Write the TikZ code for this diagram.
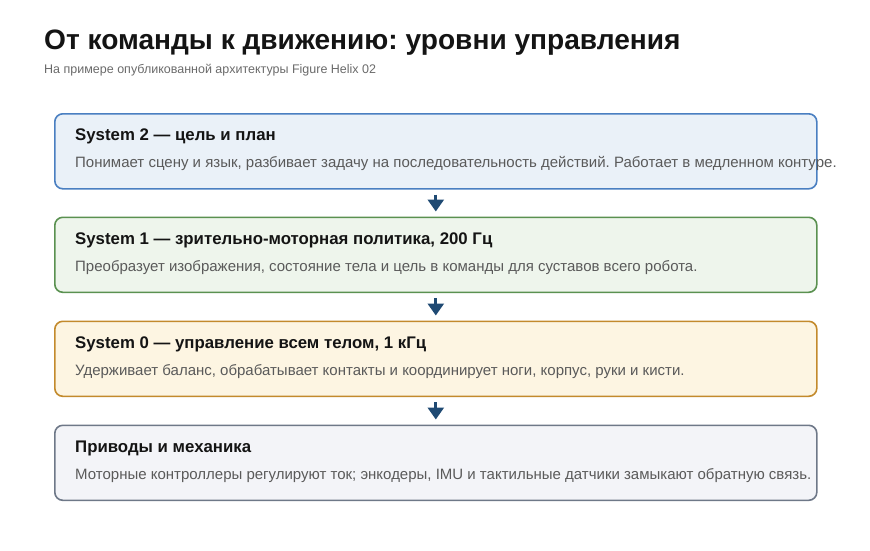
\documentclass[tikz,border=0pt]{standalone}
\usepackage{fontspec}
\setmainfont{Liberation Sans}
\usetikzlibrary{arrows.meta}
\definecolor{titlec}{HTML}{141414}
\definecolor{subc}{HTML}{6A6A6A}
\definecolor{bodyc}{HTML}{5A5A5A}
\definecolor{arrowc}{HTML}{1F4A73}
\definecolor{bAfill}{HTML}{EAF1F8}\definecolor{bAdraw}{HTML}{4A7FC1}
\definecolor{bBfill}{HTML}{EEF5EC}\definecolor{bBdraw}{HTML}{5A9150}
\definecolor{bCfill}{HTML}{FDF5E2}\definecolor{bCdraw}{HTML}{C38A2C}
\definecolor{bDfill}{HTML}{F3F4F8}\definecolor{bDdraw}{HTML}{6E7888}
\tikzset{
  panel/.style={draw, line width=1.6pt, rounded corners=8pt, minimum width=762pt, minimum height=75pt, anchor=north west, inner sep=0pt},
  headtxt/.style={anchor=base west, inner sep=0pt, font=\bfseries\fontsize{16.8}{19}\selectfont, text=titlec},
  bodytxt/.style={anchor=base west, inner sep=0pt, font=\fontsize{15}{17}\selectfont, text=bodyc},
  flow/.style={draw=arrowc, line width=2.8pt, -{Triangle[width=16pt,length=12pt]}, shorten <=5pt, shorten >=5pt},
}
\begin{document}
\frenchspacing
\begin{tikzpicture}[x=1pt,y=-1pt]
\useasboundingbox (0,0) rectangle (870,551);
\node[anchor=base west, inner sep=0pt, font=\bfseries\fontsize{28.1}{34}\selectfont, text=titlec] (title) at (44,49) {От команды к движению: уровни управления};
\node[anchor=base west, inner sep=0pt, font=\fontsize{12.5}{14}\selectfont, text=subc] (sub) at (44,74) {На примере опубликованной архитектуры Figure Helix 02};

\node[panel, fill=bAfill, draw=bAdraw] (b2) at (54,113) {};
\node[headtxt] (b2h) at (75,140) {System 2 — цель и план};
\node[bodytxt] (b2t) at (75,167) {Понимает сцену и язык, разбивает задачу на последовательность действий. Работает в медленном контуре.};

\node[panel, fill=bBfill, draw=bBdraw] (b1) at (54,216.5) {};
\node[headtxt] (b1h) at (75,244) {System 1 — зрительно-моторная политика, 200 Гц};
\node[bodytxt] (b1t) at (75,271) {Преобразует изображения, состояние тела и цель в команды для суставов всего робота.};

\node[panel, fill=bCfill, draw=bCdraw] (b0) at (54,320.5) {};
\node[headtxt] (b0h) at (75,348) {System 0 — управление всем телом, 1 кГц};
\node[bodytxt] (b0t) at (75,375) {Удерживает баланс, обрабатывает контакты и координирует ноги, корпус, руки и кисти.};

\node[panel, fill=bDfill, draw=bDdraw] (bm) at (54,424.5) {};
\node[headtxt] (bmh) at (75,452) {Приводы и механика};
\node[bodytxt] (bmt) at (75,479) {Моторные контроллеры регулируют ток; энкодеры, IMU и тактильные датчики замыкают обратную связь.};

\draw[flow] (b2.south) -- (b1.north);
\draw[flow] (b1.south) -- (b0.north);
\draw[flow] (b0.south) -- (bm.north);
\end{tikzpicture}
\end{document}
